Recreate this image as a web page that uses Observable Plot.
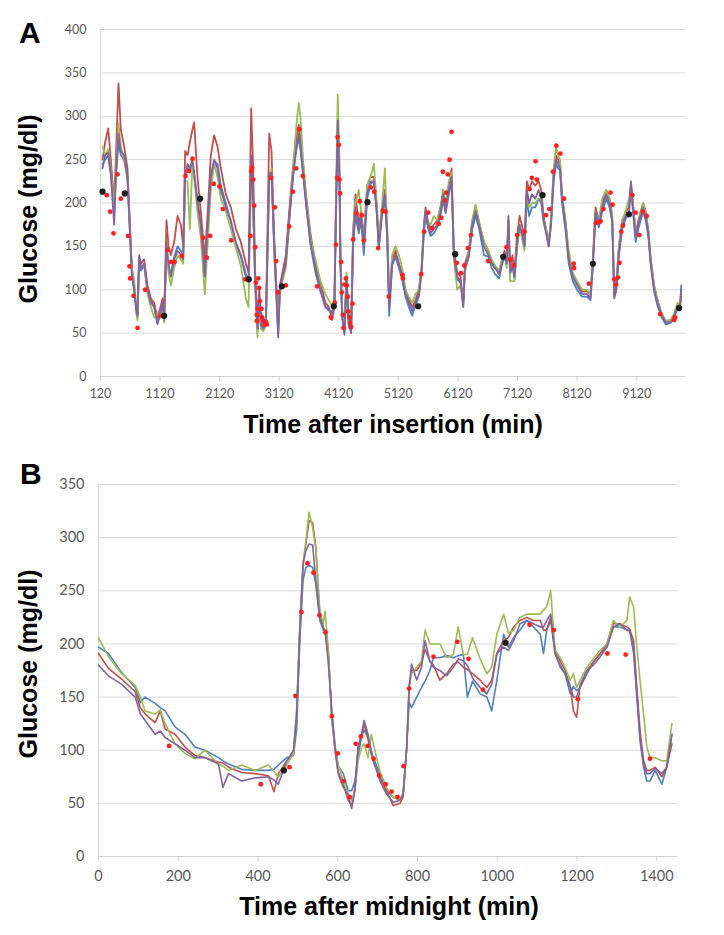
<!DOCTYPE html>
<html>
<head>
<meta charset="utf-8">
<script src="https://cdn.jsdelivr.net/npm/d3@7"></script>
<script src="https://cdn.jsdelivr.net/npm/@observablehq/plot@0.6"></script>
<style>
  html, body { margin: 0; padding: 0; background: #fff; }
  #wrap { position: relative; width: 724px; height: 935px; overflow: hidden; }
  #wrap > svg { position: absolute; left: 0; }
</style>
</head>
<body>
<div id="wrap"></div>
<script>
// ---------- Panel A data ----------
const seriesNames = ["Sensor 1", "Sensor 2", "Sensor 3", "Sensor 4"];
const seriesColors = ["#4f81bd", "#c0504d", "#9bbb59", "#8064a2"];

const tA = [154,198,249,293,349,377,422,461,517,573,612,646,685,724,741,769,797,853,909,965,1021,1077,1133,1161,1189,1228,1262,1301,1357,1413,1469,1508,1541,1581,1620,1664,1692,1748,1804,1871,1916,1972,2028,2084,2140,2224,2308,2392,2476,2560,2605,2649,2683,2717,2756,2784,2812,2851,2896,2952,2991,3036,3103,3131,3175,3231,3287,
3330,3364,3409,3448,3476,3521,3577,3644,3728,3812,3896,3952,4008,4047,4075,4103,4131,4148,4176,4215,4249,4288,4327,4361,4400,4456,4495,4540,4596,4652,4708,4753,4792,4848,4893,4932,4966,5016,5072,5128,5184,5240,5296,5352,5408,5464,5509,5548,5576,5615,5660,5716,5772,5828,5873,5912,5968,6013,6052,6108,6164,6209,6237,6304,6360,6416,6472,6556,
6631,6687,6743,6811,6856,6901,6940,6968,6996,7036,7069,7109,7154,7193,7238,7277,7316,7362,7418,7474,7519,7558,7603,7643,7682,7727,7766,7800,7834,7867,7924,7980,8047,8120,8205,8289,8345,8385,8430,8486,8542,8609,8665,8710,8744,8778,8823,8879,8935,8991,9025,9058,9103,9148,9188,9227,9272,9317,9357,9413,9469,9542,9610,9694,9750,9806,9845,9868];

const aBlue = [245,250,255,232,185,228,270,255,250,228,168,118,98,74,68,135,122,128,100,88,80,62,78,86,67,155,125,118,138,150,145,140,235,240,235,245,232,205,170,120,165,232,248,245,220,200,178,152,138,115,112,250,195,108,52,88,62,55,60,235,230,152,50,100,118,135,182,
212,238,262,275,262,232,195,152,120,98,80,76,74,84,195,290,225,128,68,50,112,58,52,150,185,165,180,140,205,222,225,192,148,188,205,160,70,128,138,125,112,92,80,70,82,92,118,165,185,172,162,165,172,185,205,188,210,225,138,112,108,82,122,138,170,185,172,140,
138,125,118,113,128,138,130,175,118,128,112,148,172,165,150,205,185,195,195,205,200,178,165,150,175,225,245,240,238,200,170,130,110,100,92,92,88,128,185,172,190,205,195,178,92,100,140,170,182,188,220,190,155,170,180,190,180,160,128,98,82,68,60,62,68,78,76,105];

const aRed = [250,270,286,250,200,250,338,285,265,240,180,125,105,78,72,138,130,135,105,90,85,68,82,90,72,180,150,140,155,185,175,150,260,255,270,285,293,230,190,135,185,255,278,265,240,210,195,170,155,130,120,309,240,120,60,100,75,65,65,280,260,160,60,105,120,140,190,
225,250,275,290,275,245,205,165,130,108,85,80,65,80,210,290,235,135,75,55,110,65,55,170,210,175,190,160,220,230,230,200,155,195,215,170,85,135,145,130,120,98,88,80,88,100,125,175,195,180,170,175,180,195,215,195,220,240,145,120,115,85,130,145,180,195,178,155,
145,132,125,120,132,145,135,180,125,140,120,160,185,175,160,225,215,225,220,225,215,185,168,155,180,235,255,250,245,210,180,138,118,108,98,98,95,135,195,180,200,215,205,185,95,105,150,180,190,195,222,200,165,180,190,200,190,168,135,105,88,72,64,65,72,82,80,95];

const aGreen = [265,255,262,240,195,235,292,265,250,228,172,125,110,72,65,130,128,128,95,80,68,72,70,80,62,140,120,105,125,140,135,130,225,225,170,245,230,190,160,95,150,215,245,230,205,190,170,148,128,90,80,240,190,100,45,80,55,52,58,225,240,140,55,95,110,125,175,
220,250,290,315,300,250,200,160,135,110,95,88,82,88,215,325,250,140,80,58,120,70,58,165,200,215,190,155,220,230,245,205,160,200,240,175,90,140,150,140,125,100,92,85,95,100,125,170,190,178,175,185,180,195,215,200,225,235,135,100,105,90,120,145,180,198,180,155,
145,135,128,122,135,140,125,180,110,110,110,145,175,160,145,210,195,200,200,205,205,180,170,155,180,240,265,255,250,210,180,145,120,110,100,100,95,130,190,180,205,215,205,182,100,110,150,180,190,205,215,200,165,175,190,200,190,168,135,105,88,72,64,65,72,85,82,95];

const aPurple = [240,255,258,235,175,230,280,260,255,230,170,120,100,75,70,140,125,130,100,85,80,60,75,85,65,150,130,115,135,145,140,135,230,245,240,250,235,200,175,115,170,230,250,240,215,195,180,155,140,118,110,255,200,110,55,90,60,55,60,230,235,150,45,100,115,130,180,
215,240,265,280,265,235,195,155,125,100,80,78,72,85,200,295,230,130,70,48,115,60,50,160,195,170,185,150,210,225,225,195,150,190,210,165,80,130,140,130,115,95,85,75,85,95,120,170,190,175,165,170,175,190,210,190,215,230,140,115,110,80,125,140,175,190,175,150,
140,130,125,118,130,140,130,185,120,130,115,150,175,165,150,215,200,210,205,215,205,180,165,150,175,230,250,245,240,205,175,135,115,105,95,95,90,130,190,175,195,210,200,180,90,100,145,175,185,190,225,195,160,175,185,195,185,165,130,100,85,70,62,63,70,80,78,100];

const redAt = [226,282,338,405,461,584,607,618,674,741,870,1122,1250,1306,1362,1485,1547,1603,1665,1844,1905,1961,2023,2118,2174,2314,2549,2638,2649,2666,2683,2700,2717,2728,2767,2784,2795,2756,2823,2745,2834,2745,2856,2868,2912,2896,2985,3047,3069,3103,3231,3287,3349,3403,3459,3515,3756,3986,4053,4070,4092,4098,4120,4131,4142,4159,4170,4187,4198,4215,4238,4254,4271,4277,4299,4310,4327,4350,4361,4417,4473,4506,4540,4658,4714,4781,4859,4904,4960,5190,5196,5503,5554,5621,5682,5800,5839,5867,5901,5923,5951,5979,6013,6102,6170,6226,6287,6338,6629,6935,6996,7058,7114,7238,7322,7362,7423,7446,7598,7654,7716,7772,7839,7901,8064,8070,8317,8435,8497,8514,8564,8682,8716,8744,8772,8806,8834,8862,8890,9048,9104,9166,9222,9289,9514,9750,9767];
const redAv = [209,190,165,233,205,162,127,113,93,56,100,70,146,132,132,139,231,237,251,160,137,162,222,219,193,157,112,162,237,241,227,197,149,108,113,102,87,78,78,71,68,64,64,60,60,63,229,195,133,97,105,173,213,240,285,231,104,68,85,152,229,276,267,227,211,132,97,71,56,106,113,105,92,75,68,62,57,84,158,188,202,186,157,218,213,148,191,190,92,117,113,118,167,189,171,176,183,236,203,212,233,250,282,131,119,128,148,163,133,149,135,128,163,167,216,229,248,227,186,193,236,266,257,205,130,125,107,177,178,179,193,212,198,112,106,114,131,167,174,209,189,163,190,185,72,65,68];

const blackAt = [154,528,1189,1793,2610,3164,4036,4602,5453,6074,6878,7541,8385,8991,9834];
const blackAv = [213,211,70,205,112,104,81,201,81,141,138,209,130,187,79];

const xTicksA = [120,1120,2120,3120,4120,5120,6120,7120,8120,9120];
const yTicksA = [0,50,100,150,200,250,300,350,400];

// ---------- Panel B data ----------
const tB = [0,25,58,92,105,117,142,155,167,192,217,242,267,301,312,326,359,393,426,440,451,472,489,497,505,513,520,528,537,545,555,564,568,576,585,593,601,614,626,635,643,651,660,666,676,684,689,706,722,739,756,764,773,779,785,798,810,819,831,840,856,873,890,902,915,925,938,957,974,986,999,1016,1028,1041,1057,1074,1091,1108,1116,1124,1134,1145,1158,1170,1183,1191,1199,1208,1225,1241,1258,1275,1291,1308,1325,1332,1342,1350,1358,1367,1375,1383,1396,1413,1425,1438];

const bBlue = [197,191,173,159,145,150,144,140,137,122,115,103,100,93,90,87,82,81,81,82,86,93,95,120,205,260,272,274,272,256,222,213,213,190,137,105,85,78,62,62,71,95,113,119,112,100,93,78,62,56,53,59,103,145,140,150,159,165,175,187,187,189,187,189,190,150,165,153,150,137,166,209,197,206,213,222,216,209,191,213,222,191,178,172,153,160,156,159,172,183,191,197,216,216,213,213,191,150,109,84,71,71,81,68,84,115];
const bRed = [191,177,167,155,140,134,126,137,120,115,103,95,93,89,88,84,79,78,76,61,78,90,97,135,215,275,294,316,314,291,228,215,213,197,130,100,80,68,53,48,65,103,115,125,110,97,90,74,62,48,50,56,103,160,175,175,182,195,184,180,166,172,181,183,178,176,172,166,159,166,191,203,206,216,222,225,222,222,213,213,225,194,184,175,160,137,131,162,175,183,191,200,219,219,216,214,203,159,119,90,81,81,84,75,84,106];
const bGreen = [206,188,172,161,150,137,134,138,125,106,97,92,100,87,85,81,86,81,86,80,75,86,97,140,220,275,297,324,310,288,231,219,231,197,128,103,87,71,59,53,62,90,103,106,93,115,106,80,65,56,53,60,103,159,172,178,184,213,200,200,200,187,190,216,190,190,206,186,172,178,209,228,210,213,225,228,228,228,232,235,250,194,187,178,166,172,159,166,178,186,194,200,222,216,222,244,235,197,166,134,103,93,93,90,90,125];
const bPurple = [180,170,162,150,134,128,115,118,112,106,100,93,93,87,65,78,71,74,75,72,68,90,100,134,213,275,288,294,293,260,225,215,213,184,135,103,78,65,58,45,62,103,115,128,115,97,90,71,59,51,53,59,103,159,181,166,178,203,184,178,175,170,178,186,184,180,168,159,153,162,191,197,194,203,219,222,219,216,216,222,228,191,180,172,160,150,150,160,175,180,188,197,216,219,213,212,197,155,112,86,78,78,83,78,84,115];

const redBt = [177,407,479,494,509,524,539,554,569,585,600,615,630,645,658,675,690,704,720,735,750,765,779,840,900,928,964,1081,1142,1202,1276,1322,1383];
const redBv = [104,68,84,151,230,276,267,227,211,132,97,71,56,106,113,104,92,76,68,61,56,85,158,188,202,186,157,218,213,148,191,190,92];

const blackBt = [465,1021];
const blackBv = [81,201];

const xTicksB = [0,200,400,600,800,1000,1200,1400];
const yTicksB = [0,50,100,150,200,250,300,350];

// ---------- build tables ----------
function longTable(t, arrays) {
  const out = [];
  arrays.forEach((vals, k) => {
    t.forEach((x, i) => out.push({t: x, v: vals[i], s: seriesNames[k]}));
  });
  return out;
}
const pts = (t, v) => t.map((x, i) => ({t: x, v: v[i]}));

const dataA = longTable(tA, [aBlue, aRed, aGreen, aPurple]);
const dataB = longTable(tB, [bBlue, bRed, bGreen, bPurple]);

const tickFont = "Lato, 'Open Sans', 'DejaVu Sans', sans-serif";

function panel({data, red, black, xDomain, yDomain, xTicks, yTicks, height, mt, mb, ml, mr, fs, padY, padX, sw}) {
  return Plot.plot({
    width: 724,
    height,
    marginTop: mt, marginBottom: mb, marginLeft: ml, marginRight: mr,
    style: {fontFamily: tickFont, fontSize: fs + "px", color: "#595959", background: "transparent", overflow: "visible"},
    x: {domain: xDomain},
    y: {domain: yDomain},
    color: {domain: seriesNames, range: seriesColors},
    marks: [
      Plot.gridY({ticks: yTicks, stroke: "#d9d9d9", strokeOpacity: 1, strokeWidth: 1}),
      Plot.ruleX([xDomain[0]], {stroke: "#d9d9d9", strokeWidth: 1}),
      Plot.ruleY([0], {stroke: "#d0d0d0", strokeWidth: 1}),
      Plot.axisY({ticks: yTicks, tickSize: 0, tickPadding: padY, fill: "#595959", label: null, tickFormat: "d"}),
      Plot.axisX({ticks: xTicks, tickSize: 5, tickPadding: padX, stroke: "#d0d0d0", fill: "#595959", label: null, tickFormat: "d"}),
      Plot.line(data, {x: "t", y: "v", z: "s", stroke: "s", strokeWidth: sw, strokeLinejoin: "round"}),
      Plot.dot(red, {x: "t", y: "v", r: 2.4, fill: "#ff2020", stroke: "none"}),
      Plot.dot(black, {x: "t", y: "v", r: 3.1, fill: "#1e1e1e", stroke: "none"})
    ]
  });
}

const wrap = document.getElementById("wrap");

const plotA = panel({
  data: dataA, red: pts(redAt, redAv), black: pts(blackAt, blackAv),
  xDomain: [120, 9940], yDomain: [0, 400], xTicks: xTicksA, yTicks: yTicksA,
  height: 410, mt: 29, mb: 34, ml: 100, mr: 39, fs: 12.5, padY: 14, padX: 8, sw: 1.8
});
plotA.style.top = "0px";
wrap.appendChild(plotA);

const plotB = panel({
  data: dataB, red: pts(redBt, redBv), black: pts(blackBt, blackBv),
  xDomain: [0, 1452], yDomain: [0, 350], xTicks: xTicksB, yTicks: yTicksB,
  height: 430, mt: 24, mb: 34, ml: 98, mr: 47, fs: 14.5, padY: 14, padX: 9, sw: 1.6
});
plotB.style.top = "460px";
wrap.appendChild(plotB);

// ---------- titles ----------
const ns = "http://www.w3.org/2000/svg";
const over = document.createElementNS(ns, "svg");
over.setAttribute("width", 724);
over.setAttribute("height", 935);
over.style.top = "0px";
over.style.pointerEvents = "none";
over.setAttribute("font-family", "'Liberation Sans', Arial, Helvetica, sans-serif");
over.setAttribute("font-weight", "bold");
function txt(s, attrs) {
  const e = document.createElementNS(ns, "text");
  for (const k in attrs) e.setAttribute(k, attrs[k]);
  e.textContent = s;
  over.appendChild(e);
}
txt("A", {x: 19, y: 43, "font-size": 30});
txt("B", {x: 20, y: 484, "font-size": 30});
txt("Glucose (mg/dl)", {transform: "translate(37,209) rotate(-90)", "text-anchor": "middle", "font-size": 25});
txt("Glucose (mg/dl)", {transform: "translate(37,664) rotate(-90)", "text-anchor": "middle", "font-size": 25});
txt("Time after insertion (min)", {x: 393, y: 433, "text-anchor": "middle", "font-size": 25});
txt("Time after midnight (min)", {x: 389, y: 915, "text-anchor": "middle", "font-size": 25});
wrap.appendChild(over);
</script>
</body>
</html>
